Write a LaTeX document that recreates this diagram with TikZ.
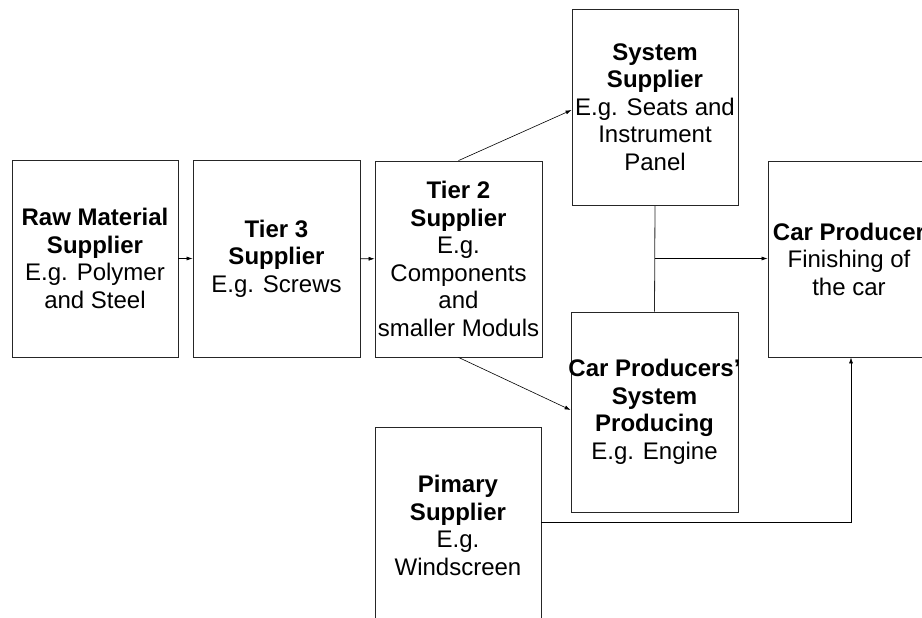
\documentclass[tikz,border=0pt]{standalone}
\usepackage{fontspec}
\setmainfont{Liberation Sans}
\usetikzlibrary{arrows.meta,calc}
\begin{document}
\begin{tikzpicture}[x=1pt,y=-1pt,
  box/.style={draw=black!85,line width=0.8pt,rectangle,inner sep=0pt,align=center,
    minimum width=166pt,minimum height=197pt,font=\fontsize{24}{27.5}\selectfont},
  arr/.style={-{Latex[length=6pt,width=4pt]},line width=0.6pt},
  conn/.style={line width=0.8pt,draw=black!85}]
\useasboundingbox (0,0) rectangle (922,618);
\clip (0,0) rectangle (922,618);
\node[box] (raw) at (95,258.5) {\textbf{Raw Material}\\\textbf{Supplier}\\E.g. Polymer\\and Steel};
\node[box,minimum width=167pt] (t3) at (276.5,258.5) {\textbf{Tier 3}\\\textbf{Supplier}\\E.g. Screws};
\node[box,minimum width=167pt,minimum height=196pt] (t2) at (458.5,259) {\textbf{Tier 2}\\\textbf{Supplier}\\E.g.\\Components\\and\\smaller Moduls};
\node[box,minimum height=196pt] (sys) at (655,107) {\textbf{System}\\\textbf{Supplier}\\E.g. Seats and\\Instrument\\Panel};
\node[box,minimum width=167pt,minimum height=200pt] (cps) at (654.5,412) {\makebox[0pt][c]{\textbf{Car Producers'}}\\\textbf{System}\\\textbf{Producing}\\E.g. Engine};
\node[box] (prim) at (458,525.5) {\textbf{Pimary}\\\textbf{Supplier}\\E.g.\\Windscreen};
\node[box,minimum width=162pt,minimum height=196pt] (car) at (849,259) {\textbf{Car Producer}\\Finishing of\\the car};
\coordinate (j) at ($(sys.south)!0.5!(cps.north)$);
\draw[arr] (raw) -- (t3);
\draw[arr] (t3) -- (t2);
\draw[arr] (t2.north) -- ($(sys.west)+(0,3)$);
\draw[arr] (t2.south) -- ($(cps.west)+(0,-2)$);
\draw[conn] (sys.south) -- (cps.north);
\draw[arr] (j) -- (j -| car.west);
\draw[arr] ($(prim.east)+(0,-3)$) -| ($(car.south)+(2,0)$);
\end{tikzpicture}
\end{document}
